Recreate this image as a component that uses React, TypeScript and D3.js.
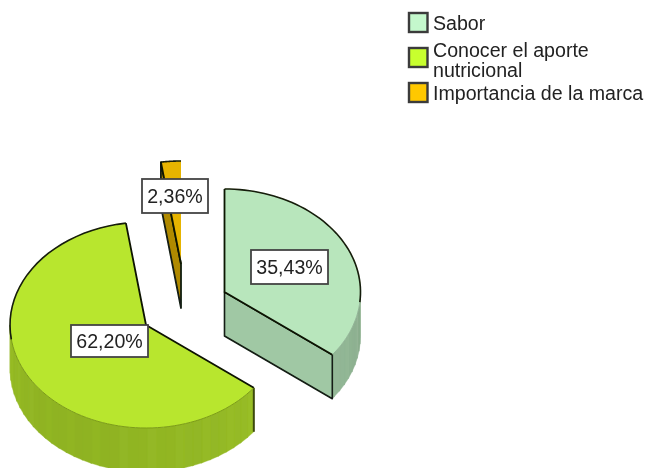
import React from "react";
import * as d3 from "d3";

const categories = ["Sabor", "Conocer el aporte nutricional", "Importancia de la marca"];
const values = [35.43, 62.2, 2.36];
const valueLabels = ["35,43%", "62,20%", "2,36%"];
const swatchColors = ["#c4f8cc", "#c8ff2e", "#ffc800"];
const topColors = ["#b8e6bc", "#b8e62e", "#e6b400"];
const faceColors = ["#a0c8a4", "#9cc424", "#b08a00"];

const W = 647, H = 468;
const RX = 136, RY = 103, DEPTH = 44;
const centers = [[224.5, 292], [146, 325], [181, 264]];
const labelBoxes = [[251, 250, 77, 34], [71, 325, 77, 32], [142, 179, 66, 34]];
const drawOrder = [2, 0, 1];

const pie = d3.pie<number>().sort(null).value((d) => d)(values);
const arcGen = d3.arc();
const unitArc = (a: number, b: number) =>
  arcGen({ innerRadius: 0, outerRadius: 1, startAngle: a, endAngle: b } as any) as string;

const pt = (c: number[], t: number, dy = 0): [number, number] => [
  c[0] + RX * Math.sin(t),
  c[1] - RY * Math.cos(t) + dy,
];
const line = d3.line();

function rimStrips(i: number) {
  const c = centers[i];
  const lo = Math.max(pie[i].startAngle, Math.PI / 2);
  const hi = Math.min(pie[i].endAngle, Math.PI * 1.5);
  if (hi <= lo) return [];
  const step = (4 * Math.PI) / 180;
  const starts = d3.range(lo, hi, step);
  const base = d3.rgb(topColors[i]);
  return starts.map((s, k) => {
    const e = Math.min(s + step + 0.01, hi);
    const mid = (s + e) / 2;
    const shade = i === 1
      ? 0.87 - 0.08 * Math.abs(Math.cos(mid)) - 0.05 * Math.max(0, Math.sin(-mid))
      : 0.8 - 0.1 * Math.abs(Math.sin(mid - 2.2));
    const jitter = k % 3 === 0 ? 0.012 : 0;
    const col = d3.rgb(base.r * (shade + jitter), base.g * (shade + jitter), base.b * (shade + jitter));
    const pts: [number, number][] = [pt(c, s), pt(c, e), pt(c, e, DEPTH), pt(c, s, DEPTH)];
    return { d: line(pts) + "Z", col: col.formatRgb() };
  });
}

const FONT = "'Liberation Sans', Arial, sans-serif";

function Slice({ i }: { i: number }) {
  const c = centers[i];
  const { startAngle: a, endAngle: b } = pie[i];
  const strips = rimStrips(i);
  const faceT = i === 0 ? b : a;
  const cutFace: [number, number][] = [[c[0], c[1]], pt(c, faceT), pt(c, faceT, DEPTH), [c[0], c[1] + DEPTH]];
  const showFace = i !== 1;
  const lowerStart = Math.max(a, Math.PI / 2);
  const lowerEnd = Math.min(b, Math.PI * 1.5);
  const upper = d3.range(0, 61).map((k) => a + ((b - a) * k) / 60).filter((t) => Math.cos(t) >= -0.12 || t > Math.PI * 1.45);
  const lower = d3.range(0, 61).map((k) => lowerStart + ((lowerEnd - lowerStart) * k) / 60);
  const edge = i === 2
    ? [pt(c, a), [c[0], c[1]]]
    : [pt(c, a), [c[0], c[1]], pt(c, b)];
  return (
    <g>
      {strips.map((s, k) => <path key={k} d={s.d} fill={s.col} stroke={s.col} strokeWidth={0.4} />)}
      {showFace && (
        <path d={line(cutFace) + "Z"} fill={faceColors[i]} stroke="#121c12" strokeWidth={i === 2 ? 1.8 : 1.6} strokeLinejoin="round" />
      )}
      {i === 1 && (
        <path d={line([pt(c, a), pt(c, a, DEPTH)]) as string} stroke="#3c4a10" strokeWidth={2} fill="none" />
      )}
      <path
        d={unitArc(a, b)}
        transform={`translate(${c[0]},${c[1]}) scale(${RX},${RY})`}
        fill={topColors[i]}
        stroke="none"
      />
      {lower.length > 1 && lowerEnd > lowerStart && (
        <path d={line(lower.map((t) => pt(c, t))) as string} fill="none" stroke={i === 1 ? "#7c9c18" : "#8fb094"} strokeWidth={1} />
      )}
      <path d={line(upper.map((t) => pt(c, t))) as string} fill="none" stroke="#141c08" strokeWidth={1.6} />
      <path d={line(edge as [number, number][]) as string} fill="none" stroke="#0c1204" strokeWidth={1.8} strokeLinejoin="round" />
    </g>
  );
}

function ValueLabel({ i }: { i: number }) {
  const [x, y, w, h] = labelBoxes[i];
  return (
    <g>
      <rect x={x} y={y} width={w} height={h} fill="#fff" stroke="#444" strokeWidth={1.8} />
      <text x={x + w / 2} y={y + h / 2 + 7} textAnchor="middle" fontFamily={FONT} fontSize={19.6} fill="#222">
        {valueLabels[i]}
      </text>
    </g>
  );
}

const legendRows = [
  { y: 13, lines: [["Sabor", 30]] },
  { y: 48, lines: [["Conocer el aporte", 57], ["nutricional", 77]] },
  { y: 83, lines: [["Importancia de la marca", 100]] },
] as { y: number; lines: [string, number][] }[];

export default function App() {
  return (
    <svg
      width={W}
      height={H}
      viewBox={`0 0 ${W} ${H}`}
      style={{ position: "absolute", left: 0, top: 0, background: "#fff" }}
      aria-label={categories.join(", ")}
    >
      <defs>
        <filter id="soft" x="-2%" y="-2%" width="104%" height="104%">
          <feGaussianBlur stdDeviation="0.55" />
        </filter>
      </defs>
      <g filter="url(#soft)">
        {drawOrder.map((i) => <Slice key={i} i={i} />)}
        {[1, 0, 2].map((i) => <ValueLabel key={i} i={i} />)}
        {legendRows.map((r, i) => (
          <g key={i}>
            <rect x={409} y={r.y} width={18.5} height={19} fill={swatchColors[i]} stroke="#3a3a3a" strokeWidth={2.4} />
            {r.lines.map(([t, y]) => (
              <text key={t} x={433} y={y} fontFamily={FONT} fontSize={19.6} fill="#222">{t}</text>
            ))}
          </g>
        ))}
      </g>
    </svg>
  );
}
